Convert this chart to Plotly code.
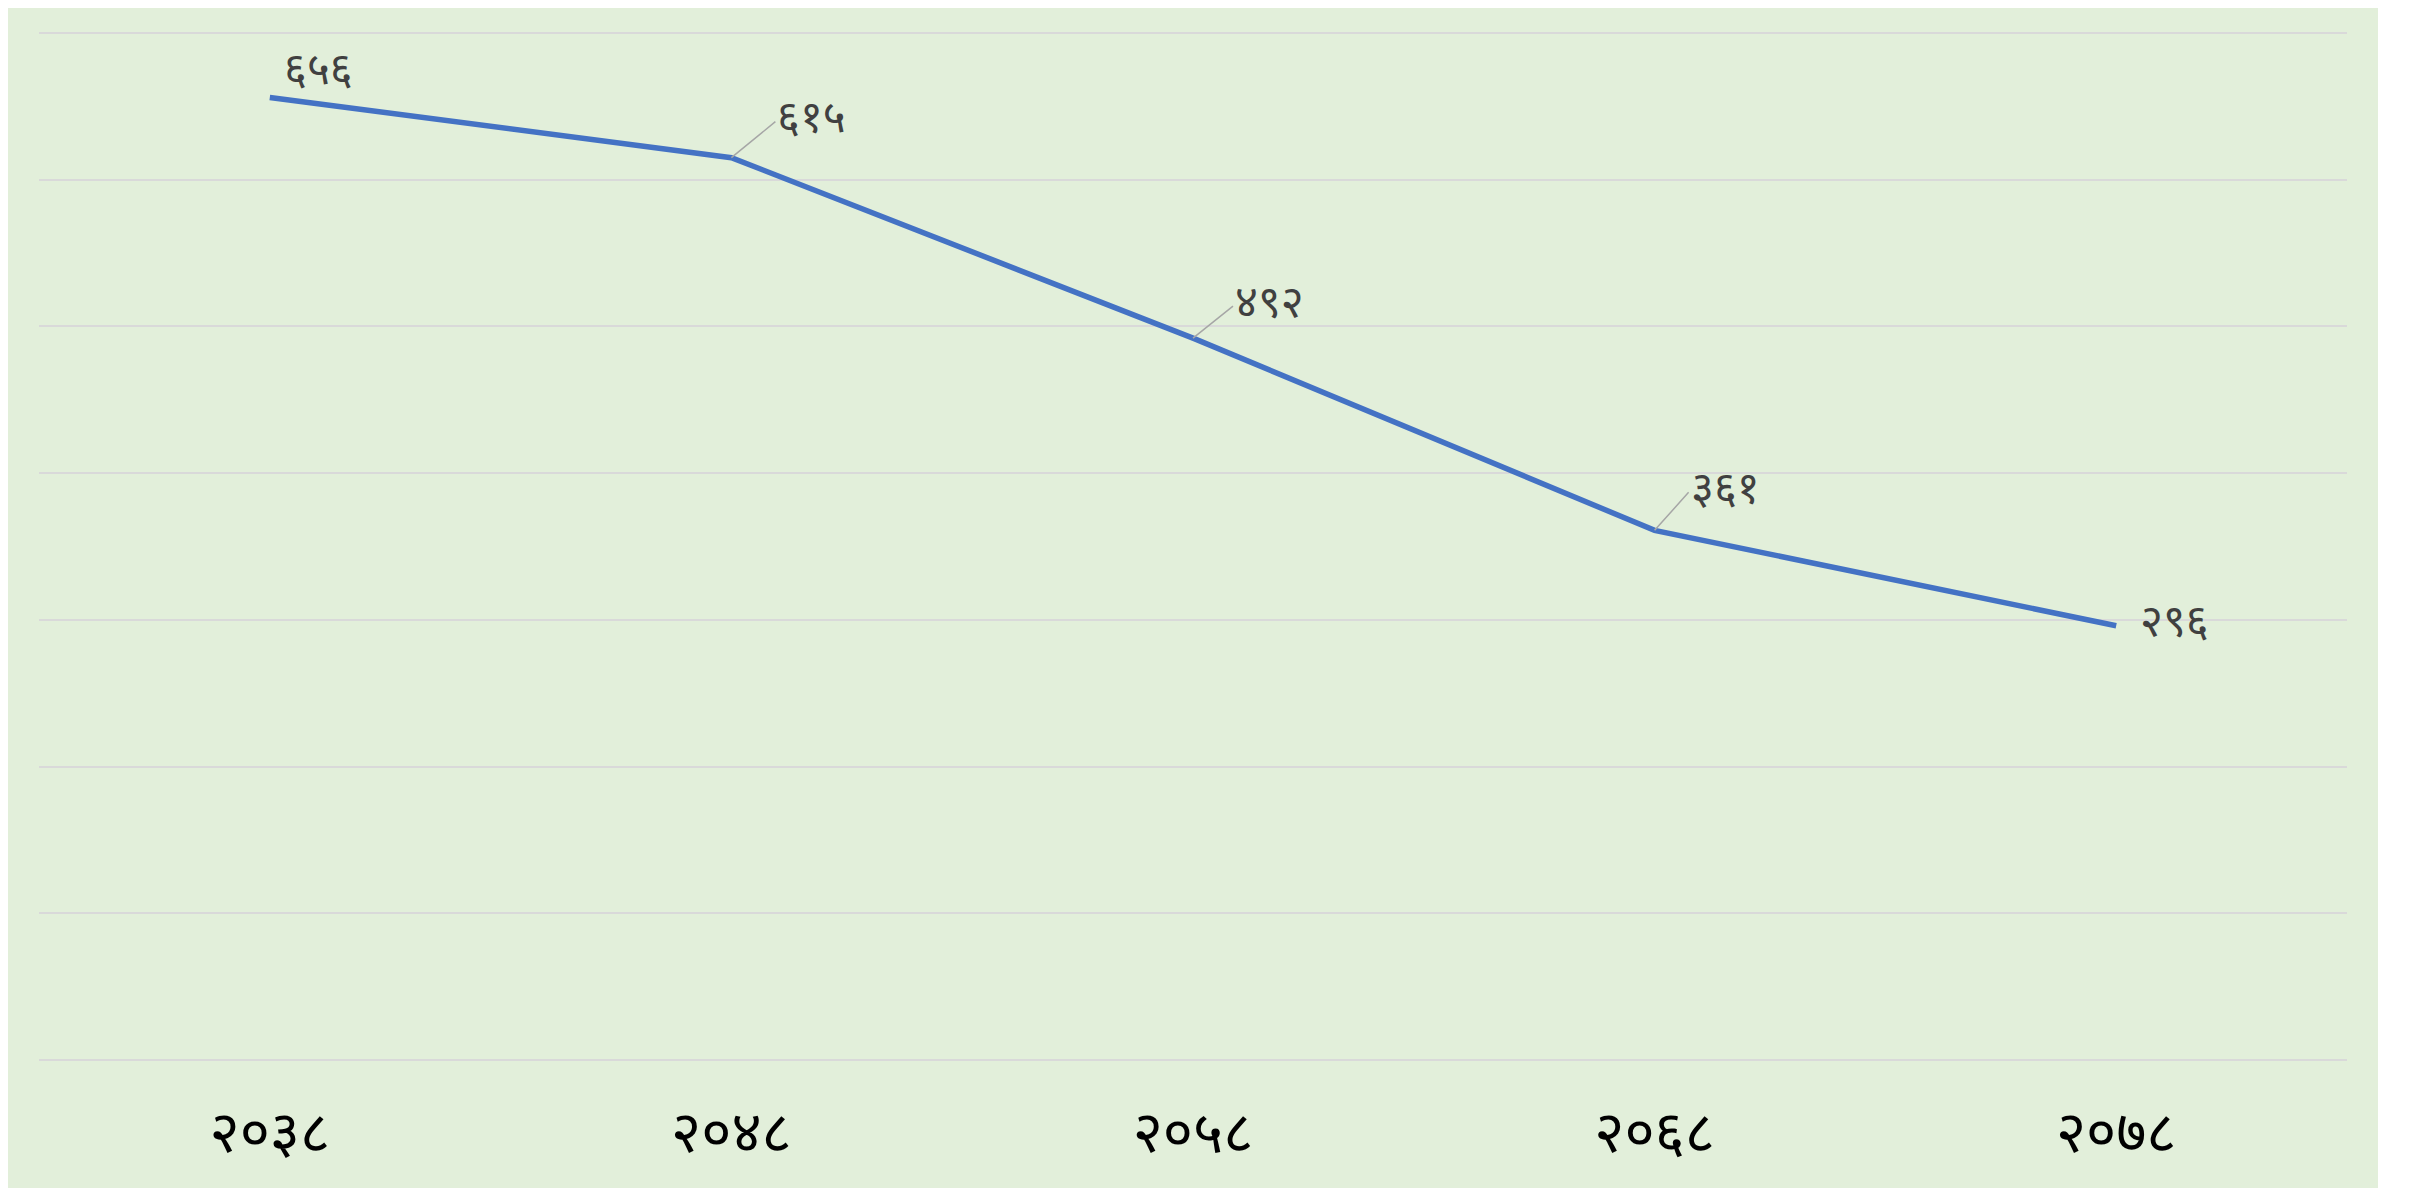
import plotly.graph_objects as go

years = ["२०३८", "२०४८", "२०५८", "२०६८", "२०७८"]
values = [656, 615, 492, 361, 296]
labels = ["६५६", "६१५", "४९२", "३६१", "२९६"]
y_ticks = [0, 100, 200, 300, 400, 500, 600, 700]

# label offsets (pixels) and whether a leader line is drawn
label_dx = [12, 44, 40, 34, 22]
label_dy = [-24, -36, -32, -38, 0]
leader = [False, True, True, True, False]

FONT = "Noto Sans Devanagari, Noto Sans, Lohit Devanagari, sans-serif"

fig = go.Figure()
fig.add_trace(go.Scatter(
    x=years, y=values, mode="lines",
    line=dict(color="#4472C4", width=5.5),
    hoverinfo="skip", showlegend=False,
))

for xv, yv, t, dx, dy, ld in zip(years, values, labels, label_dx, label_dy, leader):
    fig.add_annotation(
        x=xv, y=yv, text=t, showarrow=True,
        arrowhead=0, arrowwidth=1.5 if ld else 0.1,
        arrowcolor="#A6A6A6" if ld else "rgba(0,0,0,0)",
        ax=dx, ay=dy, xanchor="left", yanchor="middle",
        font=dict(family=FONT, size=44, color="#404040"),
    )

fig.update_layout(
    width=2370, height=1180,
    margin=dict(l=31, r=31, t=22, b=123),
    paper_bgcolor="#E2EFDA",
    plot_bgcolor="#E2EFDA",
    font=dict(family=FONT),
    xaxis=dict(
        type="category", range=[-0.5, 4.5], showgrid=False, zeroline=False,
        showline=False, ticks="", tickfont=dict(family=FONT, size=58, color="#000000"),
        ticklabelstandoff=30,
    ),
    yaxis=dict(
        range=[-2, 702], tickvals=y_ticks, showticklabels=False,
        showgrid=True, gridcolor="#D9D9D9", gridwidth=1.5,
        zeroline=False, showline=False,
    ),
)

fig.write_html("out.html")
